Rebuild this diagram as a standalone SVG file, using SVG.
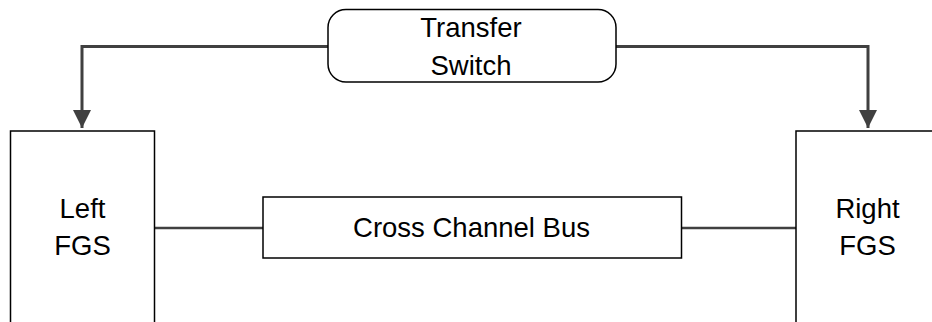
<svg xmlns="http://www.w3.org/2000/svg" width="932" height="322" viewBox="0 0 932 322">
<style>
.box{fill:#fff;stroke:#000;stroke-width:1.5}
.lbl{font-family:"Liberation Sans",Arial,sans-serif;font-size:27.5px;fill:#000;text-anchor:middle}
.con{fill:none;stroke:#404040;stroke-width:3}
.bus{fill:none;stroke:#404040;stroke-width:2.5}
</style>
<defs>
<marker id="ah" markerUnits="userSpaceOnUse" markerWidth="18" markerHeight="18" refX="16" refY="8" orient="auto" viewBox="0 0 16 16">
<path d="M0,0 L16,8 L0,16 Z" fill="#404040"/>
</marker>
</defs>
<g id="connectors">
<path class="con" d="M328,46.5 H82 V128" marker-end="url(#ah)"/>
<path class="con" d="M616,46.5 H868 V128" marker-end="url(#ah)"/>
<path class="bus" d="M154.5,228 H263"/>
<path class="bus" d="M681.5,228 H796"/>
</g>
<g id="transfer-switch">
<rect class="box" x="328" y="9.5" width="288" height="72.5" rx="18" ry="18"/>
<text class="lbl" x="471" y="37">Transfer</text>
<text class="lbl" x="471" y="75">Switch</text>
</g>
<g id="left-fgs">
<rect class="box" x="10.5" y="131" width="144" height="200"/>
<text class="lbl" x="82.5" y="218">Left</text>
<text class="lbl" x="82.5" y="255">FGS</text>
</g>
<g id="right-fgs">
<rect class="box" x="796" y="131" width="144" height="200"/>
<text class="lbl" x="867.5" y="218">Right</text>
<text class="lbl" x="867.5" y="255">FGS</text>
</g>
<g id="cross-channel-bus">
<rect class="box" x="263" y="197" width="418.5" height="61"/>
<text class="lbl" x="471.5" y="237">Cross Channel Bus</text>
</g>
</svg>
